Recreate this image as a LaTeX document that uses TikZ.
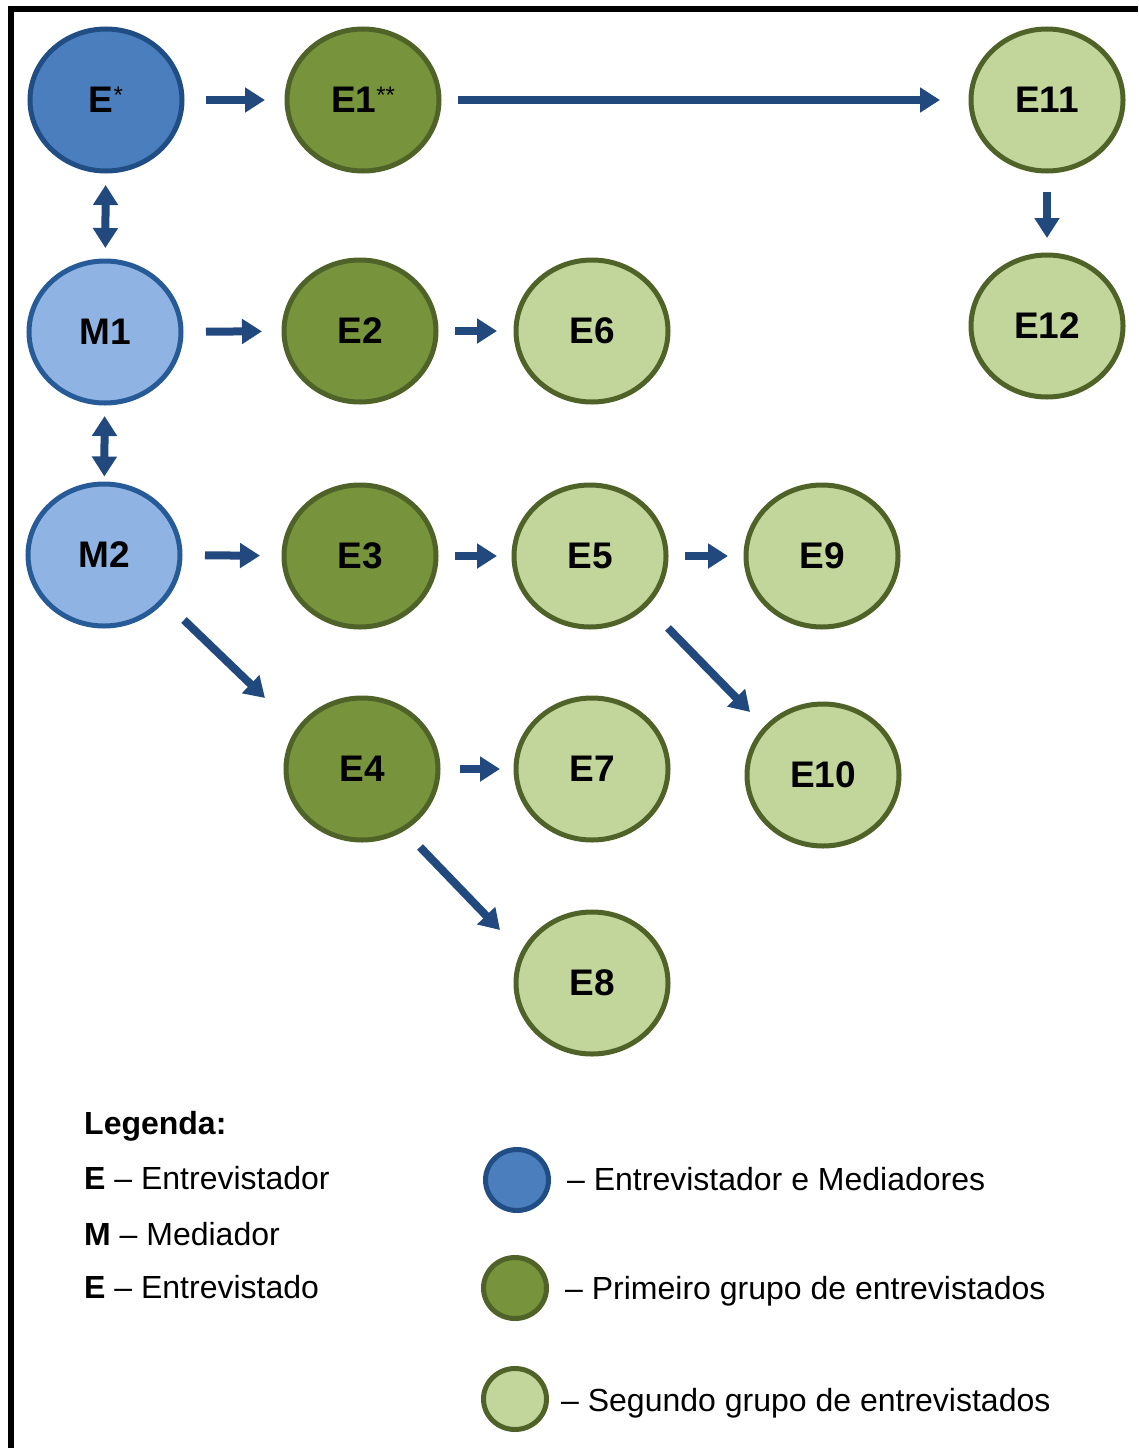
\documentclass[tikz,border=0pt]{standalone}
\usepackage{fontspec}
\setmainfont{Liberation Sans}
\usetikzlibrary{shapes.geometric,arrows.meta}
\definecolor{arrowc}{HTML}{22497E}
\definecolor{bluefill}{HTML}{4B7EBC}
\definecolor{bluedraw}{HTML}{1F4D84}
\definecolor{lbluefill}{HTML}{8FB4E3}
\definecolor{lbluedraw}{HTML}{275B98}
\definecolor{dgreenfill}{HTML}{77933C}
\definecolor{greendraw}{HTML}{4F6228}
\definecolor{lgreenfill}{HTML}{C2D69B}
\newcommand{\astsup}[1]{\raisebox{9pt}{\fontsize{24}{24}\selectfont\mdseries #1}}
\begin{document}
\begin{tikzpicture}[x=1pt,y=-1pt,
  nd/.style={ellipse, minimum width=152pt, minimum height=142pt, line width=5pt, inner sep=0pt,
    font=\fontsize{37}{37}\selectfont\bfseries},
  bluenode/.style={nd, fill=bluefill, draw=bluedraw},
  mednode/.style={nd, fill=lbluefill, draw=lbluedraw},
  firstnode/.style={nd, fill=dgreenfill, draw=greendraw},
  secondnode/.style={nd, fill=lgreenfill, draw=greendraw},
  legcirc/.style={ellipse, minimum width=63pt, minimum height=61pt, line width=5pt, inner sep=0pt},
  legtext/.style={anchor=base west, inner sep=0pt, font=\fontsize{32}{32}\selectfont},
  arr/.style={draw=arrowc, line width=8pt, -{Triangle[width=24pt,length=20pt]}},
  darr/.style={draw=arrowc, line width=8pt, {Triangle[width=24pt,length=20pt]}-{Triangle[width=24pt,length=20pt]}}
]
\useasboundingbox (0,0) rectangle (1138,1448);
\fill[white] (0,0) rectangle (1138,1448);
\draw[line width=6pt, line join=miter] (11,1448) -- (11,9) -- (1138,9);

% nodes
\node[bluenode]   (E)   at (106,100) {E\astsup{*}};
\node[firstnode]  (E1)  at (363,100) {E1\astsup{**}};
\node[secondnode] (E11) at (1047,100) {E11};
\node[secondnode] (E12) at (1047,326) {E12};
\node[mednode]    (M1)  at (105,332) {M1};
\node[firstnode]  (E2)  at (360,331) {E2};
\node[secondnode] (E6)  at (592,331) {E6};
\node[mednode]    (M2)  at (104,555) {M2};
\node[firstnode]  (E3)  at (360,556) {E3};
\node[secondnode] (E5)  at (590,556) {E5};
\node[secondnode] (E9)  at (822,556) {E9};
\node[firstnode]  (E4)  at (362,769) {E4};
\node[secondnode] (E7)  at (592,769) {E7};
\node[secondnode] (E10) at (823,775) {E10};
\node[secondnode] (E8)  at (592,983) {E8};

% connectors
\draw[arr, shorten <=21.5pt, shorten >=19.5pt] (E) -- (E1);
\draw[arr, shorten <=16.5pt, shorten >=28.5pt] (E1) -- (E11);
\draw[arr, shorten <=18.5pt, shorten >=14.5pt] (E11) -- (E12);
\draw[darr, shorten <=11.5pt, shorten >=10.5pt] (E) -- (M1);
\draw[darr, shorten <=10.5pt, shorten >=5pt] (M1) -- (M2);
\draw[arr, shorten <=22.5pt, shorten >=19.5pt] (M1) -- (E2);
\draw[arr, shorten <=16.5pt, shorten >=16.5pt] (E2) -- (E6);
\draw[arr, shorten <=22.5pt, shorten >=21.5pt] (M2) -- (E3);
\draw[arr, shorten <=16.5pt, shorten >=14.5pt] (E3) -- (E5);
\draw[arr, shorten <=16.5pt, shorten >=15.5pt] (E5) -- (E9);
\draw[arr, shorten <=19.5pt, shorten >=13.5pt] (E4) -- (E7);
\draw[arr] ([shift={(80,65)}]M2.center) -- ([shift={(-97,-71)}]E4.center);
\draw[arr] ([shift={(78,72)}]E5.center) -- ([shift={(-73,-63)}]E10.center);
\draw[arr] ([shift={(58,78)}]E4.center) -- ([shift={(-92,-53)}]E8.center);

% legend
\node[legtext] (leg0) at (84,1134) {\textbf{Legenda:}};
\node[legtext] (leg1) at (84,1189) {\textbf{E} – Entrevistador};
\node[legtext] (leg2) at (84,1245) {\textbf{M} – Mediador};
\node[legtext] (leg3) at (84,1298) {\textbf{E} – Entrevistado};

\node[legcirc, fill=bluefill, draw=bluedraw]    (lc1) at (517,1180) {};
\node[legcirc, fill=dgreenfill, draw=greendraw] (lc2) at (515,1288) {};
\node[legcirc, fill=lgreenfill, draw=greendraw] (lc3) at (515,1399) {};

\node[legtext] (lt1) at (567,1190) {– Entrevistador e Mediadores};
\node[legtext] (lt2) at (565,1299) {– Primeiro grupo de entrevistados};
\node[legtext] (lt3) at (561,1411) {– Segundo grupo de entrevistados};
\end{tikzpicture}
\end{document}
